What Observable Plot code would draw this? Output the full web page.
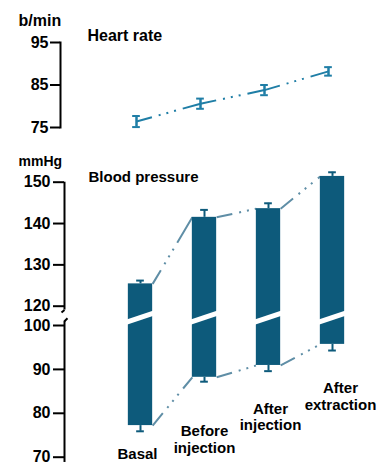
<!DOCTYPE html>
<html><head><meta charset="utf-8">
<script src="https://cdn.jsdelivr.net/npm/d3@7"></script>
<script src="https://cdn.jsdelivr.net/npm/@observablehq/plot@0.6"></script>
<style>
body{margin:0;background:#fff;}
svg{display:block;}
</style></head><body><div id="chart"></div>
<script>
// ---- data ----
const categories = ["Basal", "Before injection", "After injection", "After extraction"];
const categoryLabels = ["Basal", "Before\ninjection", "After\ninjection", "After\nextraction"];
const heartRate = [76.4, 80.6, 83.8, 88.2];
const heartRateErr = [1.3, 1.2, 1.2, 1.0];
const systolic = [125.4, 141.5, 143.6, 151.4];
const systolicErr = [0.8, 1.8, 1.3, 1.0];
const diastolic = [77.2, 88.2, 90.9, 95.7];
const diastolicErr = [1.3, 1.0, 1.3, 1.4];
const hrTicks = [75, 85, 95];
const bpTicks = [70, 80, 90, 100, 120, 130, 140, 150];
const bpSegments = [[116, 150], [68.8, 104.5]];

// ---- layout / style ----
const W = 383;
const FONT = "'Liberation Sans', Arial, sans-serif";
const BAR = "#0d5a7b";
const LINE = "#1f7ea6";
const CONNECT = "#5f8ea6";
const DASH = "16,7,2,6,2,6,2,7,200";
const HW = 0.19;        // half bar width (category units)
const CAP = 0.06;       // half error-cap width
const X_RANGE = [140, 332];
const PX = 3 / (X_RANGE[1] - X_RANGE[0]);   // category units per pixel
const idx = categories.map((d, i) => i);
const pairs = idx.slice(0, -1);
const baseStyle = {fontFamily: FONT, fontWeight: "bold", fontSize: "16px", background: "white", color: "black", overflow: "visible"};

// ---- heart rate ----
const hrLeft = 60;
const hr = Plot.plot({
  width: W, height: 140, marginTop: 42, marginBottom: 13, marginLeft: hrLeft, marginRight: 20,
  style: baseStyle,
  x: {type: "linear", domain: [0, 3], range: X_RANGE, axis: null},
  y: {domain: [75, 95]},
  marks: [
    Plot.frame({anchor: "left", strokeWidth: 2}),
    Plot.axisY({ticks: hrTicks, tickSize: 10, tickPadding: 2, strokeWidth: 2, label: null, fontSize: 16, fontWeight: "bold"}),
    Plot.link(pairs, {x1: i => i, y1: i => heartRate[i], x2: i => i + 1, y2: i => heartRate[i + 1],
      stroke: LINE, strokeWidth: 2, strokeDasharray: DASH, dx: -4}),
    Plot.ruleX(idx, {x: i => i, y1: i => heartRate[i] - heartRateErr[i], y2: i => heartRate[i] + heartRateErr[i],
      stroke: LINE, strokeWidth: 2.5, dx: -4}),
    Plot.ruleY(idx, {y: i => heartRate[i] + heartRateErr[i], x1: i => i - CAP, x2: i => i + CAP, stroke: LINE, strokeWidth: 2, dx: -4}),
    Plot.ruleY(idx, {y: i => heartRate[i] - heartRateErr[i], x1: i => i - CAP, x2: i => i + CAP, stroke: LINE, strokeWidth: 2, dx: -4}),
    Plot.text(["b/min"], {frameAnchor: "top-left", dx: -42, dy: -17, textAnchor: "start", lineAnchor: "bottom", fontSize: 16, fontWeight: "bold"}),
    Plot.text(["Heart rate"], {frameAnchor: "top-left", dx: 27, dy: -2, textAnchor: "start", lineAnchor: "bottom", fontSize: 16, fontWeight: "bold"})
  ]
});

// ---- blood pressure (broken axis) ----
const bpLeft = 64;
const axisX = (bpLeft - X_RANGE[0]) * PX;   // axis position in category units
const labelNudge = [[-3, 16], [0, 43], [2, 31], [8, 31]];
const bp = Plot.plot({
  width: W, height: 322, marginTop: 42, marginBottom: 5, marginLeft: bpLeft, marginRight: 20,
  style: baseStyle,
  x: {type: "linear", domain: [0, 3], range: X_RANGE, axis: null},
  y: {type: "linear", domain: [70, 100, 120, 150], range: [316.7, 185, 165.7, 41.7]},
  marks: [
    Plot.ruleX(bpSegments, {x: axisX, y1: d => d[0], y2: d => d[1], strokeWidth: 2}),
    // axis break hooks
    Plot.link([0], {x1: axisX, y1: 116, x2: axisX - 3 * PX, y2: 113.5, strokeWidth: 2}),
    Plot.link([0], {x1: axisX + 3 * PX, y1: 107.5, x2: axisX, y2: 104.5, strokeWidth: 2}),
    Plot.axisY({ticks: bpTicks, tickSize: 11, tickPadding: 3, strokeWidth: 2, label: null, fontSize: 16, fontWeight: "bold"}),
    Plot.link(pairs, {x1: i => i + HW, y1: i => systolic[i], x2: i => i + 1 - HW, y2: i => systolic[i + 1],
      stroke: CONNECT, strokeWidth: 2, strokeDasharray: DASH}),
    Plot.link(pairs, {x1: i => i + HW, y1: i => diastolic[i], x2: i => i + 1 - HW, y2: i => diastolic[i + 1],
      stroke: CONNECT, strokeWidth: 2, strokeDasharray: DASH}),
    Plot.ruleX(idx, {x: i => i, y1: i => systolic[i], y2: i => systolic[i] + systolicErr[i], stroke: BAR, strokeWidth: 2}),
    Plot.ruleY(idx, {y: i => systolic[i] + systolicErr[i], x1: i => i - CAP, x2: i => i + CAP, stroke: BAR, strokeWidth: 2}),
    Plot.ruleX(idx, {x: i => i, y1: i => diastolic[i], y2: i => diastolic[i] - diastolicErr[i], stroke: BAR, strokeWidth: 2}),
    Plot.ruleY(idx, {y: i => diastolic[i] - diastolicErr[i], x1: i => i - CAP, x2: i => i + CAP, stroke: BAR, strokeWidth: 2}),
    Plot.rectY(idx, {x1: i => i - HW, x2: i => i + HW, y1: i => diastolic[i], y2: i => systolic[i], fill: BAR}),
    // break stripe through the bars
    Plot.link(idx, {x1: i => i - HW - 0.05, x2: i => i + HW + 0.05, y1: 103, y2: 113.5, stroke: "white", strokeWidth: 5}),
    ...idx.map(i => Plot.text([i], {x: i, y: diastolic[i] - diastolicErr[i], text: () => categoryLabels[i],
      dx: labelNudge[i][0], dy: labelNudge[i][1], lineAnchor: "top", lineHeight: 1.1, fontSize: 15, fontWeight: "bold"})),
    Plot.text(["mmHg"], {frameAnchor: "top-left", dx: -46, dy: -17, textAnchor: "start", lineAnchor: "bottom", fontSize: 14, fontWeight: "bold"}),
    Plot.text(["Blood pressure"], {frameAnchor: "top-left", dx: 24, dy: -1, textAnchor: "start", lineAnchor: "bottom", fontSize: 15, fontWeight: "bold"})
  ]
});

const root = document.getElementById("chart");
root.append(hr, bp);
</script>
</body></html>
